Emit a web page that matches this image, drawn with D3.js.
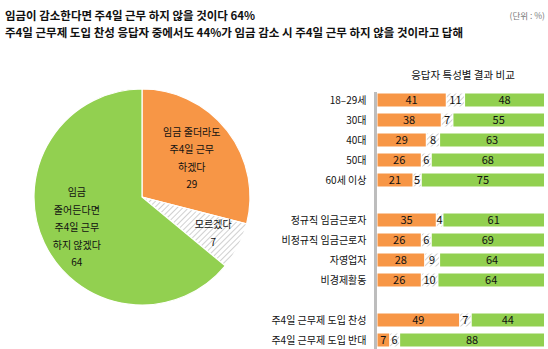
<!DOCTYPE html>
<html><head><meta charset="utf-8">
<script src="https://cdn.jsdelivr.net/npm/d3@7/dist/d3.min.js"></script>
<style>
body{margin:0;background:#fff;}
svg text{font-family:"Noto Sans CJK KR","Noto Sans",sans-serif;}
</style></head><body>
<svg id="c" width="548" height="349"></svg>
<script>
const titleLines = ["임금이 감소한다면 주4일 근무 하지 않을 것이다 64%",
  "주4일 근무제 도입 찬성 응답자 중에서도 44%가 임금 감소 시 주4일 근무 하지 않을 것이라고 답해"];
const unitLabel = "(단위 : %)";
const pieLabels = [["임금 줄더라도","주4일 근무","하겠다"],["모르겠다"],["임금","줄어든다면","주4일 근무","하지 않겠다"]];
const pieValues = [29, 7, 64];
const barTitle = "응답자 특성별 결과 비교";
const categories = ["18–29세","30대","40대","50대","60세 이상","","정규직 임금근로자","비정규직 임금근로자","자영업자","비경제활동","","주4일 근무제 도입 찬성","주4일 근무제 도입 반대"];
const workAnyway = [41,38,29,26,21,null,35,26,28,26,null,49,7];
const dontKnow   = [11,7,8,6,5,null,4,6,9,10,null,7,6];
const notWork    = [48,55,63,68,75,null,61,69,64,64,null,44,88];

const ORANGE="#F79646", GREEN="#92D050";
const svg = d3.select("#c");
const defs = svg.append("defs");
const pat = defs.append("pattern").attr("id","hatch").attr("patternUnits","userSpaceOnUse")
  .attr("width",4).attr("height",4).attr("patternTransform","rotate(45)");
pat.append("rect").attr("width",4).attr("height",4).attr("fill","#fff");
pat.append("line").attr("x1",0).attr("y1",0).attr("x2",0).attr("y2",4).attr("stroke","#c4c4c4").attr("stroke-width",1.6);

// titles
const titleWidths=[250,458];
svg.selectAll("text.t").data(titleLines).join("text").attr("class","t")
  .attr("x",5).attr("y",(d,i)=>15.8+i*16.8).attr("dy","0.35em").attr("font-size",11.5).attr("font-weight",700).attr("fill","#111")
  .attr("textLength",(d,i)=>titleWidths[i]).attr("lengthAdjust","spacingAndGlyphs").text(d=>d);
svg.append("text").attr("x",545).attr("y",16).attr("dy","0.35em").attr("text-anchor","end").attr("font-size",8.5).attr("fill","#777").text(unitLabel);

// pie
const cx=142, cy=197, R=108;
const pie = d3.pie().sort(null).value(d=>d)(pieValues);
const arc = d3.arc().innerRadius(0).outerRadius(R);
const fills=[ORANGE,"url(#hatch)",GREEN];
const g = svg.append("g").attr("transform",`translate(${cx},${cy})`);
g.selectAll("path").data(pie).join("path").attr("d",arc).attr("fill",(d,i)=>fills[i]).attr("stroke","#fff").attr("stroke-width",1.2);
const labelR=[63,80,72];
pie.forEach((d,i)=>{
  const a=(d.startAngle+d.endAngle)/2;
  const x=labelR[i]*Math.sin(a), y=-labelR[i]*Math.cos(a);
  const lines=pieLabels[i].concat([String(pieValues[i])]);
  const lh=17.5, y0=y-(lines.length-1)*lh/2;
  const t=g.append("text").attr("text-anchor","middle").attr("font-size",10).attr("fill","#111");
  lines.forEach((l,j)=>t.append("tspan").attr("x",x).attr("y",y0+j*lh).attr("dy","0.35em").text(l));
});

// bars
const x = d3.scaleLinear().domain([0,100]).range([377.5,544]);
const y = d3.scaleBand().domain(d3.range(categories.length)).range([90,350]).paddingInner(0.35).paddingOuter(0.175);
svg.append("text").attr("x",463).attr("y",75).attr("text-anchor","middle").attr("dy","0.35em").attr("font-size",10.5).attr("fill","#111").text(barTitle);
svg.append("line").attr("x1",375.5).attr("x2",375.5).attr("y1",92).attr("y2",349).attr("stroke","#bdbdbd").attr("stroke-width",3);
const rows = categories.map((c,i)=>({c,i,a:workAnyway[i],b:dontKnow[i],n:notWork[i]})).filter(d=>d.c!=="");
const bg = svg.append("g");
rows.forEach(r=>{
  const yy=y(r.i), h=y.bandwidth(), ym=yy+h/2;
  svg.append("text").attr("x",366.5).attr("y",ym).attr("dy","0.35em").attr("text-anchor","end").attr("font-size",10).attr("fill","#111").text(r.c);
  const segs=[[0,r.a,ORANGE],[r.a,r.a+r.b,"url(#hatch)"],[r.a+r.b,r.a+r.b+r.n,GREEN]];
  const vals=[r.a,r.b,r.n];
  segs.forEach((s,k)=>{
    const x0=x(s[0]), x1=Math.min(x(s[1]),x(100));
    bg.append("rect").attr("x",x0+(k?1:0)).attr("y",yy).attr("width",Math.max(0,x1-x0-(k?1:0))).attr("height",h).attr("fill",s[2]);
    bg.append("text").attr("x",(x0+x1)/2+(k?0.5:0)).attr("y",ym).attr("dy","0.36em").attr("text-anchor","middle").attr("font-size",11).attr("fill","#111").text(vals[k]);
  });
});
</script></body></html>
